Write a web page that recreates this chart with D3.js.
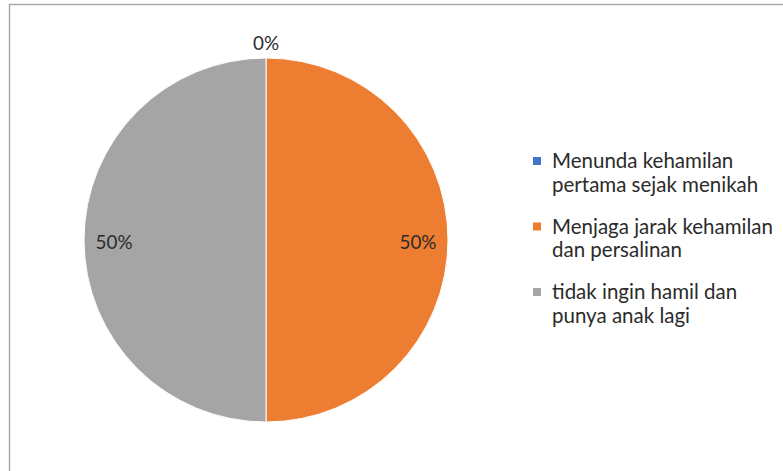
<!DOCTYPE html>
<html>
<head>
<meta charset="utf-8">
<script src="https://cdn.jsdelivr.net/npm/d3@7"></script>
<style>
  body { margin: 0; background: #fff; }
  svg { display: block; }
  text { font-family: Lato, "Liberation Sans", sans-serif; fill: #2b2b2b; }
</style>
</head>
<body>
<svg id="chart" width="783" height="471"></svg>
<script>
// data
var categories = ["Menunda kehamilan pertama sejak menikah", "Menjaga jarak kehamilan dan persalinan", "tidak ingin hamil dan punya anak lagi"];
var legendLines = [["Menunda kehamilan", "pertama sejak menikah"], ["Menjaga jarak kehamilan", "dan persalinan"], ["tidak ingin hamil dan", "punya anak lagi"]];
var values = [0, 50, 50];
var colors = ["#4472C4", "#ED7D31", "#A5A5A5"];

var svg = d3.select("#chart");

// chart frame (runs off the right and bottom edges)
svg.append("rect")
    .attr("x", 9.5).attr("y", 4.5)
    .attr("width", 820).attr("height", 520)
    .attr("fill", "#fff")
    .attr("stroke", "#ABABAB")
    .attr("stroke-width", 1.5);

var cx = 266, cy = 240, r = 182;
var total = d3.sum(values);

var pie = d3.pie().sort(null).value(function(d) { return d; });
var arcs = pie(values);
var arc = d3.arc().innerRadius(0).outerRadius(r);

var g = svg.append("g").attr("transform", "translate(" + cx + "," + cy + ")");

g.selectAll("path.slice")
    .data(arcs)
    .enter().append("path")
    .attr("class", "slice")
    .attr("d", arc)
    .attr("fill", function(d, i) { return colors[i]; })
    .attr("stroke", "#fff")
    .attr("stroke-width", function(d) { return d.value > 0 ? 1 : 0; });

// data labels: inside end for real slices, outside for empty ones
var inside = d3.arc().innerRadius(r * 0.835).outerRadius(r * 0.835);
var outside = d3.arc().innerRadius(r + 17).outerRadius(r + 17);

var labels = g.selectAll("text.label")
    .data(arcs)
    .enter().append("text")
    .attr("class", "label")
    .attr("text-anchor", "middle")
    .attr("dominant-baseline", "central")
    .style("font-size", "19px")
    .attr("transform", function(d) {
        var p = d.value > 0 ? inside.centroid(d) : outside.centroid(d);
        return "translate(" + p[0] + "," + (p[1] + 1) + ")";
    })
    .text(function(d) { return Math.round(d.value / total * 100) + "%"; });

// fit label size so "50%" is about 37px wide like the reference
var w50 = labels.filter(function(d) { return d.value > 0; }).node().getComputedTextLength();
if (w50 > 0) labels.style("font-size", (19 * 37 / w50) + "px");

// legend
var legend = svg.append("g").attr("transform", "translate(533,0)");
var rowY = [168, 233.5, 299];
var lineH = 23.5;

var item = legend.selectAll("g.item")
    .data(categories)
    .enter().append("g")
    .attr("class", "item")
    .attr("transform", function(d, i) { return "translate(0," + rowY[i] + ")"; });

item.append("rect")
    .attr("x", 0).attr("y", -11)
    .attr("width", 8).attr("height", 8)
    .attr("fill", function(d, i) { return colors[i]; });

var legendText = item.append("text")
    .attr("x", 19)
    .style("font-size", "17px");

legendText.selectAll("tspan")
    .data(function(d, i) { return legendLines[i]; })
    .enter().append("tspan")
    .attr("x", 19)
    .attr("dy", function(d, j) { return j ? lineH : 0; })
    .text(function(d) { return d; });

// scale the legend font so the widest line matches the reference width
var widest = 0;
legendText.selectAll("tspan").each(function() {
    widest = Math.max(widest, this.getComputedTextLength());
});
if (widest > 0) {
    legendText.style("font-size", (17 * 221 / widest) + "px");
}
</script>
</body>
</html>
